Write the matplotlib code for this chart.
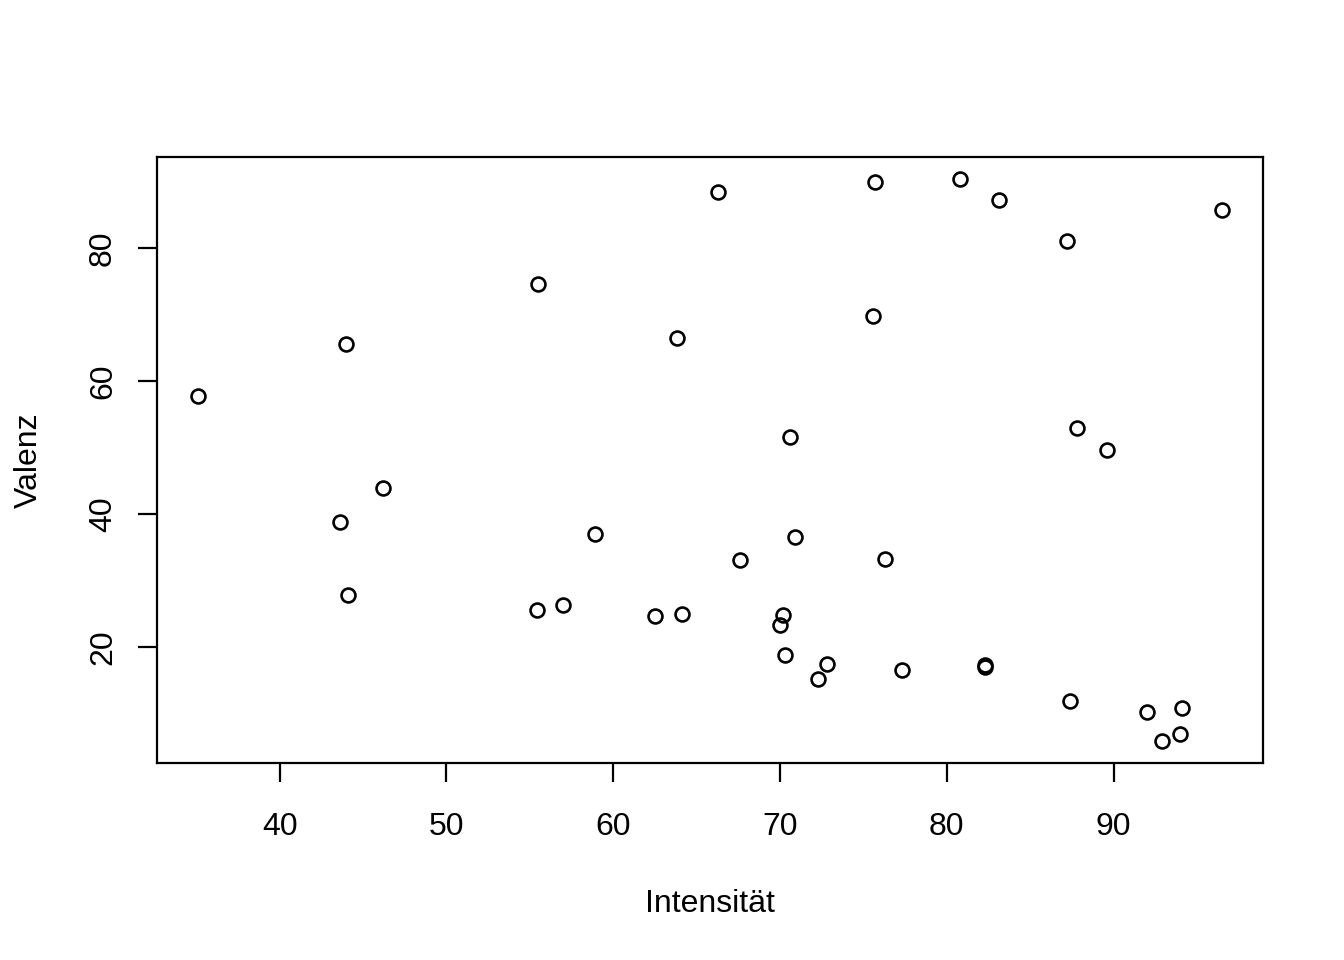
import matplotlib
matplotlib.use("Agg")
import matplotlib.pyplot as plt

intensitaet = [35.1, 44.0, 43.6, 44.1, 46.2, 55.5, 55.4, 57.0, 58.9, 62.5, 64.1, 63.8,
               66.3, 67.6, 70.2, 70.0, 70.3, 70.6, 70.9, 72.3, 72.8, 75.6, 75.7, 76.3,
               77.3, 80.8, 82.3, 82.3, 83.1, 87.2, 87.4, 87.8, 89.6, 92.0, 92.9, 94.0,
               94.1, 96.5]
valenz = [57.8, 65.6, 38.9, 27.8, 44.0, 74.6, 25.6, 26.4, 37.0, 24.7, 25.0, 66.5,
          88.4, 33.2, 24.8, 23.3, 18.8, 51.6, 36.6, 15.2, 17.5, 69.8, 89.9, 33.3,
          16.6, 90.3, 17.3, 17.0, 87.2, 81.0, 12.0, 53.0, 49.7, 10.3, 6.0, 7.0,
          10.9, 85.7]
x_ticks = [40, 50, 60, 70, 80, 90]
y_ticks = [20, 40, 60, 80]

plt.rcParams['font.family'] = ['Liberation Sans', 'DejaVu Sans']

fig = plt.figure(figsize=(13.44, 9.6), dpi=100)
ax = fig.add_axes([157/1344, 1-763/960, (1263-157)/1344, (763-157)/960])

ax.plot(intensitaet, valenz, linestyle='none', marker='o', markersize=10,
        markerfacecolor='none', markeredgecolor='black', markeredgewidth=1.9)

xmin, xmax = min(intensitaet), max(intensitaet)
ymin, ymax = min(valenz), max(valenz)
ax.set_xlim(xmin - 0.04*(xmax-xmin), xmax + 0.04*(xmax-xmin))
ax.set_ylim(ymin - 0.04*(ymax-ymin), ymax + 0.04*(ymax-ymin))

ax.set_xticks(x_ticks)
ax.set_yticks(y_ticks)
ax.tick_params(axis='both', direction='out', length=14, width=1.6, labelsize=23)
ax.tick_params(axis='x', pad=21)
ax.tick_params(axis='y', pad=14)
for lab in ax.get_yticklabels():
    lab.set_rotation(90)
    lab.set_va('center')
for s in ax.spines.values():
    s.set_linewidth(1.6)

ax.set_xlabel('Intensität', fontsize=23, labelpad=34)
ax.set_ylabel('Valenz', fontsize=23, labelpad=32)

fig.savefig('out.png', dpi=100, facecolor='white')
